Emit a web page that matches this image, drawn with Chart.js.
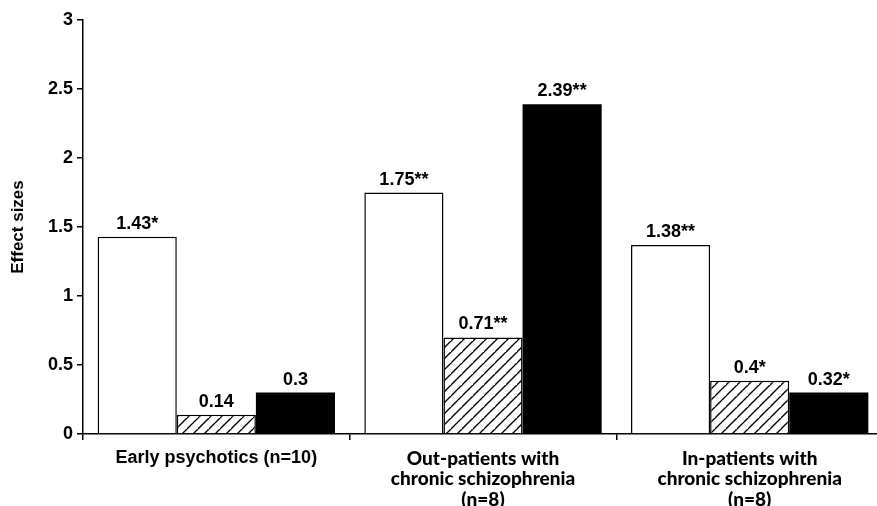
<!DOCTYPE html>
<html>
<head>
<meta charset="utf-8">
<script src="https://cdn.jsdelivr.net/npm/chart.js@4/dist/chart.umd.min.js"></script>
<style>
  html, body { margin: 0; padding: 0; background: #fff; overflow: hidden; }
  #wrap { width: 900px; height: 506px; }
</style>
</head>
<body>
<div id="wrap"><canvas id="c" width="900" height="506"></canvas></div>
<script>
// ---- data ----
const categories = [
  ['Early psychotics (n=10)'],
  ['Out-patients with', 'chronic schizophrenia', '(n=8)'],
  ['In-patients with', 'chronic schizophrenia', '(n=8)']
];
const openValues    = [1.43, 1.75, 1.37];
const hatchedValues = [0.14, 0.70, 0.385];
const blackValues   = [0.30, 2.39, 0.30];
const openLabels    = ['1.43*', '1.75**', '1.38**'];
const hatchedLabels = ['0.14', '0.71**', '0.4*'];
const blackLabels   = ['0.3', '2.39**', '0.32*'];
const yTicks = [0, 0.5, 1, 1.5, 2, 2.5, 3];
const yTitle = 'Effect sizes';

// ---- hatch pattern ----
function makeHatch() {
  const s = 11;
  const pc = document.createElement('canvas');
  pc.width = s; pc.height = s;
  const g = pc.getContext('2d');
  g.fillStyle = '#fff';
  g.fillRect(0, 0, s, s);
  g.strokeStyle = '#000';
  g.lineWidth = 1.4;
  g.beginPath();
  g.moveTo(-2, s + 2); g.lineTo(s + 2, -2);
  g.moveTo(-2 - s, s + 2); g.lineTo(2, -2);
  g.moveTo(s - 2, 2 * s + 2); g.lineTo(2 * s + 2, s - 2);
  g.stroke();
  return g.createPattern(pc, 'repeat');
}
const hatch = makeHatch();

const arial = 'Liberation Sans, Arial, sans-serif';
const gill = 'Lato, Open Sans, sans-serif';

const valueLabels = {
  id: 'valueLabels',
  afterDatasetsDraw(chart) {
    const ctx = chart.ctx;
    ctx.save();
    ctx.font = 'bold 18px ' + arial;
    ctx.fillStyle = '#000';
    ctx.textAlign = 'center';
    ctx.textBaseline = 'alphabetic';
    chart.data.datasets.forEach((ds, i) => {
      const meta = chart.getDatasetMeta(i);
      meta.data.forEach((el, j) => {
        ctx.fillText(ds.valueText[j], el.x, el.y - 8);
      });
    });
    ctx.restore();
  }
};

new Chart(document.getElementById('c'), {
  type: 'bar',
  data: {
    labels: categories,
    datasets: [
      { data: openValues, valueText: openLabels, backgroundColor: '#fff', borderColor: '#000', borderWidth: 1.5 },
      { data: hatchedValues, valueText: hatchedLabels, backgroundColor: hatch, borderColor: '#000', borderWidth: 1.5 },
      { data: blackValues, valueText: blackLabels, backgroundColor: '#000', borderColor: '#000', borderWidth: 0 }
    ]
  },
  options: {
    responsive: false,
    animation: false,
    devicePixelRatio: 1,
    layout: { padding: { top: 20, right: 17, left: 0, bottom: 0 } },
    datasets: { bar: { categoryPercentage: 0.89, barPercentage: 1.0, borderSkipped: 'start' } },
    plugins: { legend: { display: false }, tooltip: { enabled: false } },
    scales: {
      x: {
        offset: true,
        grid: { display: true, offset: true, drawOnChartArea: false, drawTicks: true, tickLength: 6, color: '#000', lineWidth: 1.5 },
        border: { display: true, color: '#000', width: 1.5 },
        ticks: {
          color: '#000',
          padding: 8,
          maxRotation: 0,
          autoSkip: false,
          font: (c) => (c.index === 0
            ? { family: arial, size: 18, weight: 'bold', lineHeight: 1.17 }
            : { family: gill, size: 19, weight: '900', lineHeight: 1.1 })
        },
        afterFit: (s) => { s.height = 72; }
      },
      y: {
        min: 0, max: 3,
        afterBuildTicks: (s) => { s.ticks = yTicks.map(v => ({ value: v })); },
        grid: { display: true, drawOnChartArea: false, drawTicks: true, tickLength: 6, color: '#000', lineWidth: 1.5 },
        border: { display: true, color: '#000', width: 1.5 },
        ticks: { color: '#000', padding: 4, callback: (v) => String(v), font: { family: arial, size: 18, weight: 'bold' } },
        title: { display: true, text: yTitle, color: '#000', padding: { top: 8, bottom: 0 }, font: { family: arial, size: 17, weight: 'bold' } },
        afterFit: (s) => { s.width = 83; }
      }
    }
  },
  plugins: [valueLabels]
});
</script>
</body>
</html>
